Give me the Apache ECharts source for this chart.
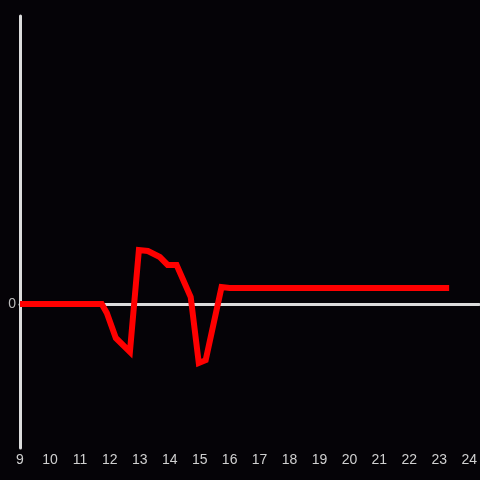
<!DOCTYPE html>
<html><head><meta charset="utf-8">
<script src="https://cdn.jsdelivr.net/npm/echarts@6/dist/echarts.min.js"></script>
<style>html,body{margin:0;padding:0;background:#050307;}#c{width:480px;height:480px;}</style>
</head><body><div id="c"></div>
<script>
const xValues = [9, 11.73, 11.9, 12.2, 12.67, 12.97, 13.27, 13.67, 13.93, 14.23, 14.7, 14.97, 15.2, 15.73, 16.0, 23.33];
const yValues = [0, 0, -0.63, -2.36, -3.33, 3.75, 3.68, 3.26, 2.71, 2.71, 0.49, -4.1, -3.9, 1.18, 1.11, 1.11];
const xTicks = [9,10,11,12,13,14,15,16,17,18,19,20,21,22,23,24];
const xMin = 9, xMax = 9 + 460 / 30;
const chart = echarts.init(document.getElementById('c'));
chart.setOption({
  backgroundColor: '#050307',
  animation: false,
  grid: {left: 20, right: 0, top: 16, bottom: 32},
  xAxis: [{
    type: 'value', min: xMin, max: xMax, interval: 1,
    axisLine: {show: false, onZero: false},
    axisTick: {show: false},
    splitLine: {show: false},
    axisLabel: {color: '#d0d0d0', fontSize: 14, margin: 5, fontFamily: 'Liberation Sans, Arial, sans-serif',
      showMaxLabel: false,
      formatter: v => xTicks.includes(Math.round(v * 1000) / 1000) ? String(v) : ''}
  }, {
    type: 'value', min: xMin, max: xMax, position: 'bottom',
    axisLine: {show: true, onZero: true, lineStyle: {color: '#dcdcdc', width: 3}},
    axisTick: {show: false}, axisLabel: {show: false}, splitLine: {show: false}
  }],
  yAxis: {
    type: 'value', min: -10, max: 20, interval: 10,
    axisLine: {show: true, lineStyle: {color: '#dcdcdc', width: 3}},
    axisTick: {show: false},
    splitLine: {show: false},
    axisLabel: {color: '#bbbbbb', fontSize: 14, margin: 4, fontFamily: 'Liberation Sans, Arial, sans-serif',
      formatter: v => v === 0 ? '0' : ''}
  },
  series: [{
    type: 'line', xAxisIndex: 0,
    data: xValues.map((x, i) => [x, yValues[i]]),
    showSymbol: false, symbol: 'none',
    lineStyle: {color: '#ff0000', width: 6, join: 'miter'},
    z: 5
  }]
});
</script></body></html>
